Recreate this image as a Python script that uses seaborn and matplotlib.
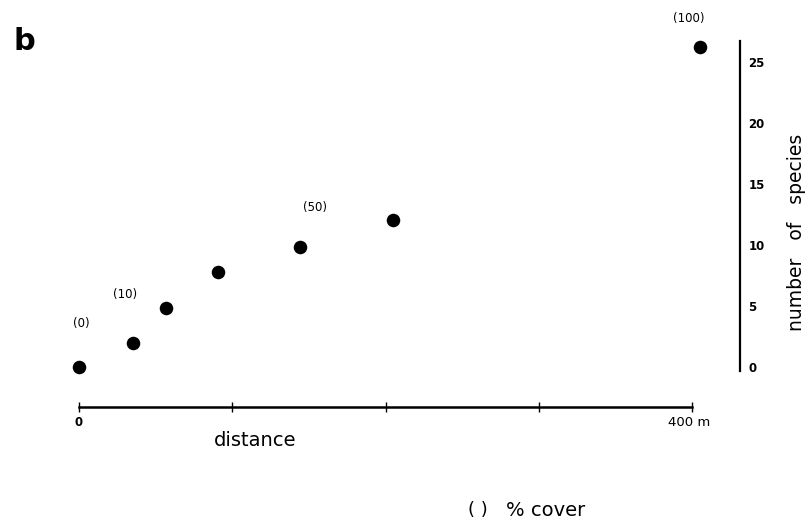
import matplotlib
matplotlib.use("Agg")
import matplotlib.pyplot as plt
import seaborn as sns
import pandas as pd

# --- data ---
distance_m = [0, 35, 57, 91, 144, 205, 405]
n_species = [0.0, 2.0, 4.8, 7.8, 9.8, 12.0, 26.2]
cover_labels = ["(0)", "", "(10)", "", "(50)", "", "(100)"]
x_ticks = [0, 100, 200, 300, 400]
x_ticklabels = ["0", "", "", "", ""]
y_ticks = [0, 5, 10, 15, 20, 25]

df = pd.DataFrame({"distance": distance_m, "species": n_species, "cover": cover_labels})

sns.set_style("white")
plt.rcParams["font.family"] = ["DejaVu Sans"]
plt.rcParams["text.color"] = "black"

fig = plt.figure(figsize=(8.1, 5.21), dpi=100)
ax = fig.add_axes([60 / 810, 1 - 407 / 521, 680 / 810, 377 / 521])

sns.scatterplot(data=df, x="distance", y="species", color="black", s=95,
                edgecolor="black", linewidth=0, ax=ax, clip_on=False, zorder=3)

# cover labels above points (offsets in pixels)
label_offsets = {"(0)": (2, 43), "(10)": (-41, 14), "(50)": (15, 40), "(100)": (-11, 29)}
for _, row in df.iterrows():
    if row["cover"]:
        dx, dy = label_offsets[row["cover"]]
        ax.annotate(row["cover"], (row["distance"], row["species"]),
                    xytext=(dx, dy), textcoords="offset pixels",
                    ha="center", va="center", fontsize=8.5, color="black")

ax.set_xlim(-12.4, 431.3)
ax.set_ylim(-3.28, 27.6)

for side in ["top", "left"]:
    ax.spines[side].set_visible(False)
ax.spines["bottom"].set_bounds(0, 400)
ax.spines["bottom"].set_linewidth(1.8)
ax.spines["right"].set_bounds(-0.3, 26.7)
ax.spines["right"].set_linewidth(1.6)
ax.spines["bottom"].set_color("black")
ax.spines["right"].set_color("black")

ax.set_xticks(x_ticks)
ax.set_xticklabels(x_ticklabels)
ax.tick_params(axis="x", direction="inout", length=7, width=1, pad=3,
               labelsize=8.5, colors="black", bottom=True)
ax.text(384, -3.28, "400 m", transform=ax.transData, ha="left", va="top",
        fontsize=9.5, color="black").set_position((384, -4.05))

ax.yaxis.tick_right()
ax.set_yticks(y_ticks)
ax.tick_params(axis="y", length=0, pad=6, labelsize=8.5, colors="black")
for lab in ax.get_yticklabels():
    lab.set_fontweight("bold")
for lab in ax.get_xticklabels():
    lab.set_fontweight("bold")

ax.set_xlabel("")
ax.set_ylabel("")
fig.text(797 / 810, 1 - 232 / 521, "number   of   species", rotation=90,
         ha="center", va="center", fontsize=13.5)
fig.text(255 / 810, 1 - 440 / 521, "distance", ha="center", va="center", fontsize=14)
fig.text(14 / 810, 1 - 42 / 521, "b", ha="left", va="center", fontsize=22,
         fontweight="bold")
fig.text(468 / 810, 1 - 510 / 521, "( )", ha="left", va="center", fontsize=13)
fig.text(506 / 810, 1 - 510 / 521, "% cover", ha="left", va="center", fontsize=14)

fig.savefig("out.png", dpi=100)
